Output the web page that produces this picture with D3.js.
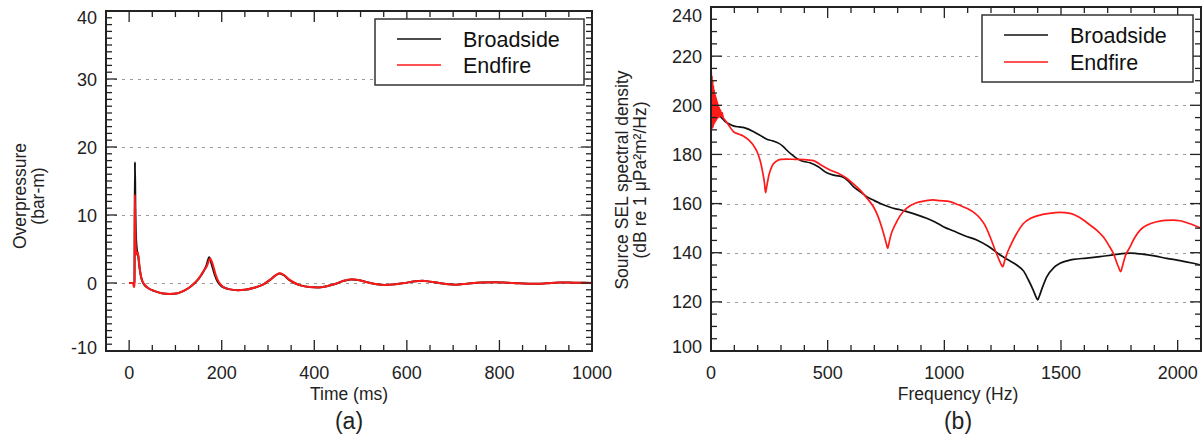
<!DOCTYPE html>
<html>
<head>
<meta charset="utf-8">
<script src="https://cdn.jsdelivr.net/npm/d3@7"></script>
<style>
  html, body { margin: 0; padding: 0; background: #fff; }
  svg { display: block; font-family: "Liberation Sans", Arial, sans-serif; }
</style>
</head>
<body>
<svg id="chart" width="1204" height="442"></svg>
<script>
// ---- Panel (a): overpressure time history, [time ms, bar-m] ----
const overpressureBroadside = [
  [0,0],[10,0],[11.5,0.2],[12.5,17.8],[13.5,11],[15,6.5],[17,4.8],[19,4.2],[22,2.5],[26,0.8],[32,-0.2],
  [40,-0.7],[55,-1.2],[70,-1.5],[88,-1.6],[105,-1.5],[120,-1.1],[135,-0.4],[150,0.6],[160,1.6],
  [167,2.6],[173,3.8],[178,2.8],[185,1.2],[192,0.1],[200,-0.5],[215,-0.9],[235,-1.05],[250,-1.0],
  [270,-0.7],[290,-0.2],[305,0.5],[318,1.2],[325,1.4],[335,1.1],[345,0.5],[357,0],[370,-0.35],
  [390,-0.6],[408,-0.65],[425,-0.5],[445,-0.15],[462,0.3],[480,0.53],[498,0.4],[515,0.1],
  [535,-0.2],[552,-0.3],[575,-0.2],[600,0.05],[618,0.25],[633,0.32],[650,0.2],[670,0],
  [690,-0.2],[706,-0.25],[730,-0.1],[760,0.08],[790,0.12],[830,0],[870,-0.12],[900,-0.05],
  [930,0.08],[960,0.05],[1000,0]
];
const overpressureEndfire = [
  [0,0],[8,0],[9,-0.2],[10.5,-0.6],[11.5,-0.2],[12.3,13.0],[13.3,8],[14.5,5],[16,4.2],[18,4.5],
  [20,4.0],[23,2],[27,0.6],[33,-0.2],[40,-0.7],[55,-1.2],[70,-1.5],[88,-1.6],[105,-1.5],
  [120,-1.1],[135,-0.4],[150,0.6],[160,1.7],[168,2.5],[175,3.6],[180,2.9],[187,1.2],[194,0.1],
  [202,-0.5],[215,-0.9],[235,-1.05],[250,-1.0],[270,-0.7],[290,-0.2],[305,0.5],[318,1.2],
  [326,1.45],[336,1.1],[346,0.5],[358,0],[370,-0.35],[390,-0.6],[408,-0.65],[425,-0.5],
  [445,-0.15],[462,0.3],[481,0.55],[498,0.4],[515,0.1],[535,-0.2],[552,-0.3],[575,-0.2],
  [600,0.05],[618,0.25],[634,0.34],[650,0.2],[670,0],[690,-0.2],[706,-0.25],[730,-0.1],
  [760,0.08],[790,0.12],[830,0],[870,-0.12],[900,-0.05],[930,0.08],[960,0.05],[1000,0]
];
const timeTicks = [0, 200, 400, 600, 800, 1000];
const pressureTicks = [-10, 0, 10, 20, 30, 40];

// ---- Panel (b): source SEL spectral density, [frequency Hz, dB] ----
const selBroadside = [
  [0,199],[2,204],[4,197],[6,203],[8,197.5],[10,202],[12,198],[14,201],[16,198],[18,200],
  [21,197.5],[25,198.5],[30,196.5],[40,195.5],[50,194.5],[60,193.5],[80,192.3],[96,191.6],
  [120,191.2],[138,191],[160,190.3],[181,189.3],[210,187.8],[239,186.2],[265,185.5],[289,184.6],
  [310,183.2],[324,181.8],[345,180],[367,178.4],[390,177.3],[424,176.6],[460,175],[496,172.5],
  [530,171.5],[567,170.7],[590,169],[610,166.9],[640,164.8],[667,162.8],[700,161.2],[724,160.1],
  [750,159.1],[781,158.1],[810,157.5],[839,156.7],[880,155.5],[924,154],[960,152.5],[996,150.6],
  [1040,148.8],[1090,146.8],[1139,145.2],[1190,142.5],[1239,139.1],[1275,137],[1310,135],
  [1340,132.5],[1360,129],[1380,125],[1393,122],[1400,120.8],[1407,122.3],[1420,125.8],
  [1439,130.2],[1470,134],[1496,135.7],[1530,136.8],[1553,137.3],[1610,137.8],[1667,138.4],
  [1730,139.2],[1796,139.8],[1820,139.7],[1839,139.5],[1900,138.7],[1953,137.7],[2010,136.8],
  [2067,135.7],[2100,135]
];
const selEndfire = [
  [0,182],[1.5,213.5],[3,192],[4.5,212],[6,190.5],[7.5,210],[9,191],[10.5,208],[12,192],
  [13.5,206.5],[15,192.5],[16.5,205],[18,193],[19.5,204],[21,193.5],[22.5,203],[24,194],
  [25.5,202],[27,194.5],[28.5,201],[30,195],[32,200],[34,195],[36,199],[38,195.5],[41,198],
  [44,195.5],[48,197],[52,195],[60,194],[75,192],[96,189.3],[120,188.2],[138,187.5],[160,186],
  [181,183.8],[198,181],[210,177.7],[222,172.5],[229,168.5],[234,164.4],[239,167],[248,171.5],
  [262,175.3],[281,177.3],[300,178],[324,178.1],[360,178],[400,177.9],[439,177.5],[475,175.5],
  [510,173.7],[545,172.3],[581,170.3],[610,168],[639,165.5],[670,162],[696,158.7],[715,155],
  [731,150.6],[745,146],[752,143.5],[757,141.8],[763,144],[772,147.5],[789,151.3],[810,155],
  [839,158.1],[880,160.3],[924,161.2],[950,161.5],[981,161.2],[1024,160.8],[1060,159.5],
  [1096,158.1],[1125,156.5],[1153,154],[1175,151],[1196,146.5],[1220,140.5],[1240,136],
  [1250,134.3],[1258,136.5],[1268,139.5],[1281,142.4],[1310,147.8],[1339,151.9],[1370,154],
  [1410,155.3],[1450,156],[1496,156.4],[1539,156],[1580,154.3],[1624,151.3],[1655,149],
  [1681,146.5],[1705,143],[1724,139.8],[1745,134.5],[1756,132.3],[1764,134.8],[1775,138.5],
  [1796,142.4],[1815,146],[1839,149.2],[1870,151.3],[1910,152.6],[1945,153.2],[1981,153.3],
  [2010,153],[2039,152.2],[2070,151.2],[2100,150]
];
const freqTicks = [0, 500, 1000, 1500, 2000];
const selTicks = [100, 120, 140, 160, 180, 200, 220, 240];

const seriesNames = ["Broadside", "Endfire"];
const seriesColors = ["#111111", "#ff1a1a"];

const svg = d3.select("#chart");
const axisColor = "#222";

function drawPanel(cfg) {
  const x = d3.scaleLinear().domain(cfg.xDomain).range(cfg.xRange);
  const y = d3.scaleLinear().domain(cfg.yDomain).range(cfg.yRange);
  const [x0, x1] = cfg.xRange;
  const [yb, yt] = cfg.yRange;
  const g = svg.append("g");
  const clipId = "clip-" + cfg.id;

  g.append("clipPath").attr("id", clipId)
    .append("rect").attr("x", x0).attr("y", yt).attr("width", x1 - x0).attr("height", yb - yt);

  // dashed horizontal grid at major y ticks
  g.append("g").selectAll("line")
    .data(cfg.yTicks.filter(v => v > cfg.yDomain[0] && v < cfg.yDomain[1]))
    .join("line")
    .attr("x1", x0).attr("x2", x1)
    .attr("y1", d => Math.round(y(d)) + 0.5).attr("y2", d => Math.round(y(d)) + 0.5)
    .attr("stroke", "#9a9a9a").attr("stroke-width", 1).attr("stroke-dasharray", "3,5");

  // data curves
  const line = d3.line().x(d => x(d[0])).y(d => y(d[1])).curve(d3.curveMonotoneX);
  const curves = g.append("g").attr("clip-path", `url(#${clipId})`);
  cfg.series.forEach((s, i) => {
    curves.append("path").datum(s)
      .attr("fill", "none").attr("stroke", seriesColors[i])
      .attr("stroke-width", cfg.lineWidths[i]).attr("stroke-linejoin", "round")
      .attr("d", line);
  });

  // ticks on all four sides, pointing inward
  const majorLen = 11, minorLen = 6;
  const xMinor = d3.range(cfg.xMinorStart, cfg.xDomain[1] + 1e-9, cfg.xMinorStep);
  const yMinor = d3.range(cfg.yDomain[0], cfg.yDomain[1] + 1e-9, cfg.yMinorStep);
  const isXMajor = v => cfg.xTicks.some(t => Math.abs(t - v) < 1e-6);
  const isYMajor = v => cfg.yTicks.some(t => Math.abs(t - v) < 1e-6);
  const tg = g.append("g").attr("stroke", axisColor).attr("stroke-width", 1.3);
  xMinor.forEach(v => {
    const len = isXMajor(v) ? majorLen : minorLen;
    const px = x(v);
    tg.append("line").attr("x1", px).attr("x2", px).attr("y1", yb).attr("y2", yb - len);
    tg.append("line").attr("x1", px).attr("x2", px).attr("y1", yt).attr("y2", yt + len);
  });
  yMinor.forEach(v => {
    const len = isYMajor(v) ? majorLen : minorLen;
    const py = y(v);
    tg.append("line").attr("x1", x0).attr("x2", x0 + len).attr("y1", py).attr("y2", py);
    tg.append("line").attr("x1", x1).attr("x2", x1 - len).attr("y1", py).attr("y2", py);
  });

  // frame
  g.append("rect").attr("x", x0).attr("y", yt).attr("width", x1 - x0).attr("height", yb - yt)
    .attr("fill", "none").attr("stroke", axisColor).attr("stroke-width", 2);

  // tick labels
  g.append("g").selectAll("text").data(cfg.xTicks).join("text")
    .attr("x", d => x(d)).attr("y", yb + 28)
    .attr("text-anchor", "middle").attr("font-size", 18).attr("fill", axisColor)
    .text(d => d);
  g.append("g").selectAll("text").data(cfg.yTicks).join("text")
    .attr("x", x0 - 9)
    .attr("y", (d, i) => {
      let py = y(d) + 6.5;
      if (i === 0) py -= cfg.edgeShift[0];
      if (i === cfg.yTicks.length - 1) py += cfg.edgeShift[1];
      return py;
    })
    .attr("text-anchor", "end").attr("font-size", 18).attr("fill", axisColor)
    .text(d => d);

  // axis titles
  g.append("text").attr("x", cfg.xTitleX).attr("y", 400)
    .attr("text-anchor", "middle").attr("font-size", 17.5).attr("fill", axisColor)
    .text(cfg.xTitle);
  g.append("text").attr("x", cfg.xTitleX).attr("y", 429)
    .attr("text-anchor", "middle").attr("font-size", 23).attr("fill", axisColor)
    .text(cfg.panelLabel);
  cfg.yTitle.forEach((t, i) => {
    g.append("text")
      .attr("transform", `translate(${cfg.yTitleX[i]},${cfg.yTitleY}) rotate(-90)`)
      .attr("text-anchor", "middle").attr("font-size", 17.5).attr("fill", axisColor)
      .text(t);
  });

  // legend
  const L = cfg.legend;
  g.append("rect").attr("x", L.x).attr("y", L.y).attr("width", L.w).attr("height", L.h)
    .attr("fill", "#fff").attr("stroke", "#333").attr("stroke-width", 1.5);
  seriesNames.forEach((name, i) => {
    const ly = L.y + L.first + i * L.gap;
    g.append("line").attr("x1", L.x + 22).attr("x2", L.x + 66).attr("y1", ly).attr("y2", ly)
      .attr("stroke", seriesColors[i]).attr("stroke-width", 1.5);
    g.append("text").attr("x", L.x + 88).attr("y", ly + 7.5)
      .attr("font-size", 21.5).attr("fill", "#111").text(name);
  });
}

drawPanel({
  id: "a",
  xDomain: [-50, 1000], xRange: [106, 592],
  yDomain: [-10, 40], yRange: [351, 11],
  xTicks: timeTicks, yTicks: pressureTicks,
  xMinorStart: -50, xMinorStep: 50, yMinorStep: 1,
  series: [overpressureBroadside, overpressureEndfire], lineWidths: [2, 2],
  edgeShift: [3.5, 6],
  xTitle: "Time (ms)", xTitleX: 349, panelLabel: "(a)",
  yTitle: ["Overpressure", "(bar-m)"], yTitleX: [26, 44], yTitleY: 196,
  legend: { x: 375, y: 19, w: 209, h: 66, first: 20, gap: 26 }
});

drawPanel({
  id: "b",
  xDomain: [0, 2100], xRange: [711, 1201],
  yDomain: [100, 240], yRange: [351, 7],
  xTicks: freqTicks, yTicks: selTicks,
  xMinorStart: 0, xMinorStep: 100, yMinorStep: 5,
  series: [selBroadside, selEndfire], lineWidths: [1.7, 1.7],
  edgeShift: [5, 8.5],
  xTitle: "Frequency (Hz)", xTitleX: 958, panelLabel: "(b)",
  yTitle: ["Source SEL spectral density", "(dB re 1 \u03bcPa\u00b2m\u00b2/Hz)"], yTitleX: [628, 646], yTitleY: 180,
  legend: { x: 982, y: 15, w: 211, h: 67, first: 20, gap: 27 }
});
</script>
</body>
</html>
